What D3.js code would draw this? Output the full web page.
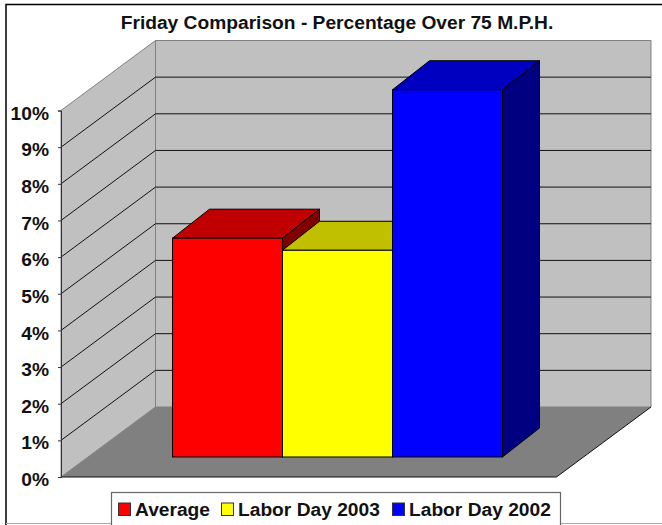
<!DOCTYPE html>
<html>
<head>
<meta charset="utf-8">
<script src="https://cdn.jsdelivr.net/npm/d3@7"></script>
<style>
	html, body { margin: 0; padding: 0; background: #fff; }
	svg { display: block; }
	text { font-family: "Liberation Sans", Arial, sans-serif; font-weight: bold; fill: #111; }
</style>
</head>
<body>
<div id="graph"></div>
<script>
var width = 662;
var height = 525;

var chartTitle = "Friday Comparison - Percentage Over 75 M.P.H.";
var seriesNames = ["Average", "Labor Day 2003", "Labor Day 2002"];
var seriesValues = [5.97, 5.64, 10.02];
var frontColors = ["#ff0000", "#ffff00", "#0000ff"];
var topColors = ["#c00000", "#c0c000", "#0000c0"];
var sideColors = ["#800000", "#808000", "#000080"];
var yTicks = [0, 1, 2, 3, 4, 5, 6, 7, 8, 9, 10];

// the front left edge of the box, depth goes up and to the right from it
var yScale = d3.scaleLinear().domain([0, 10]).range([477, 110.5]);
var xScale = d3.scaleBand().domain(seriesNames).range([172.5, 502.5]);
var depthX = d3.scaleLinear().domain([0, 1]).range([0, 94.5]);
var depthY = d3.scaleLinear().domain([0, 1]).range([0, -70]);
var wallLeft = 61;
var floorRight = 556.5;

// bars sit in the middle of the floor depth
var barFront = 0.286;
var barDepthX = 37;
var barDepthY = -29;
var barBase = yScale(0) + depthY(barFront);

function pt(x, v, depth) {
	return [x + depthX(depth), yScale(v) + depthY(depth)];
}

function poly(points) {
	return points.map(function (p) { return p.join(","); }).join(" ");
}

function barTop(v) {
	return barBase - (yScale(0) - yScale(v));
}

var chart = d3.select("#graph")
	.append("svg")
	.attr("width", width)
	.attr("height", height);

// outer frame, right side runs off the picture
chart.append("path")
	.attr("d", "M6,525V4.5H662")
	.attr("fill", "none")
	.attr("stroke", "#000")
	.attr("stroke-width", 1.5);
chart.append("line")
	.attr("x1", 6).attr("x2", 662)
	.attr("y1", 523.5).attr("y2", 523.5)
	.attr("stroke", "#aaa");

chart.append("text")
	.attr("x", 337)
	.attr("y", 29)
	.attr("text-anchor", "middle")
	.style("font-size", "19.2px")
	.text(chartTitle);

// walls and floor
chart.append("polygon")
	.attr("points", poly([pt(wallLeft, 0, 0), pt(wallLeft, 10, 0), pt(wallLeft, 10, 1), pt(wallLeft, 0, 1)]))
	.attr("fill", "#c0c0c0")
	.attr("stroke", "#808080");
chart.append("polygon")
	.attr("points", poly([pt(wallLeft, 0, 1), pt(wallLeft, 10, 1), pt(floorRight, 10, 1), pt(floorRight, 0, 1)]))
	.attr("fill", "#c0c0c0")
	.attr("stroke", "#808080");
chart.append("polygon")
	.attr("points", poly([pt(wallLeft, 0, 0), pt(wallLeft, 0, 1), pt(floorRight, 0, 1), pt(floorRight, 0, 0)]))
	.attr("fill", "#808080");

// grid lines on both walls
var gridTicks = yTicks.slice(1, -1);
chart.append("g").selectAll("polyline")
	.data(gridTicks)
	.enter()
	.append("polyline")
	.attr("points", function (d) {
		return poly([pt(wallLeft, d, 0), pt(wallLeft, d, 1), pt(floorRight, d, 1)]);
	})
	.attr("fill", "none")
	.attr("stroke", "#111")
	.attr("stroke-width", 1);

// floor edges
chart.append("polyline")
	.attr("points", poly([pt(wallLeft, 0, 0), pt(floorRight, 0, 0), pt(floorRight, 0, 1)]))
	.attr("fill", "none")
	.attr("stroke", "#111");

// left axis
var yAxis = d3.axisLeft().scale(yScale)
	.tickValues(yTicks)
	.tickSize(3)
	.tickSizeOuter(3)
	.tickPadding(9)
	.tickFormat(function (d) { return d + "%"; });
var axisG = chart.append("g")
	.attr("transform", "translate(" + wallLeft + ",0)")
	.call(yAxis);
axisG.attr("font-family", null).attr("font-size", null);
axisG.selectAll("text").style("font-size", "19.2px").attr("dy", "0.45em");
axisG.selectAll("path, line").attr("stroke", "#333");

// bars
var bars = chart.append("g").selectAll("g")
	.data(seriesNames)
	.enter()
	.append("g");

bars.append("polygon")
	.attr("points", function (d, i) {
		var l = xScale(d), r = l + xScale.bandwidth(), top = barTop(seriesValues[i]);
		return poly([[l, top], [l + barDepthX, top + barDepthY], [r + barDepthX, top + barDepthY], [r, top]]);
	})
	.attr("fill", function (d, i) { return topColors[i]; })
	.attr("stroke", "#000");

bars.append("polygon")
	.attr("points", function (d, i) {
		var r = xScale(d) + xScale.bandwidth(), top = barTop(seriesValues[i]);
		return poly([[r, top], [r + barDepthX, top + barDepthY], [r + barDepthX, barBase + barDepthY], [r, barBase]]);
	})
	.attr("fill", function (d, i) { return sideColors[i]; })
	.attr("stroke", "#000");

bars.append("rect")
	.attr("x", function (d) { return xScale(d); })
	.attr("y", function (d, i) { return barTop(seriesValues[i]); })
	.attr("width", xScale.bandwidth())
	.attr("height", function (d, i) { return barBase - barTop(seriesValues[i]); })
	.attr("fill", function (d, i) { return frontColors[i]; })
	.attr("stroke", "#000");

// legend
var legendX = [118, 221, 392];
chart.append("rect")
	.attr("x", 111.5).attr("y", 492.5)
	.attr("width", 449).attr("height", 40)
	.attr("fill", "#fff")
	.attr("stroke", "#666")
	.attr("stroke-width", 1.2);

var legend = chart.append("g").selectAll("g")
	.data(seriesNames)
	.enter()
	.append("g")
	.attr("transform", function (d, i) { return "translate(" + legendX[i] + ",0)"; });

legend.append("rect")
	.attr("x", 0.5).attr("y", 503)
	.attr("width", 12).attr("height", 12.5)
	.attr("fill", function (d, i) { return frontColors[i]; })
	.attr("stroke", "#333");

legend.append("text")
	.attr("x", 17)
	.attr("y", 516)
	.style("font-size", "19.2px")
	.text(function (d) { return d; });
</script>
</body>
</html>
